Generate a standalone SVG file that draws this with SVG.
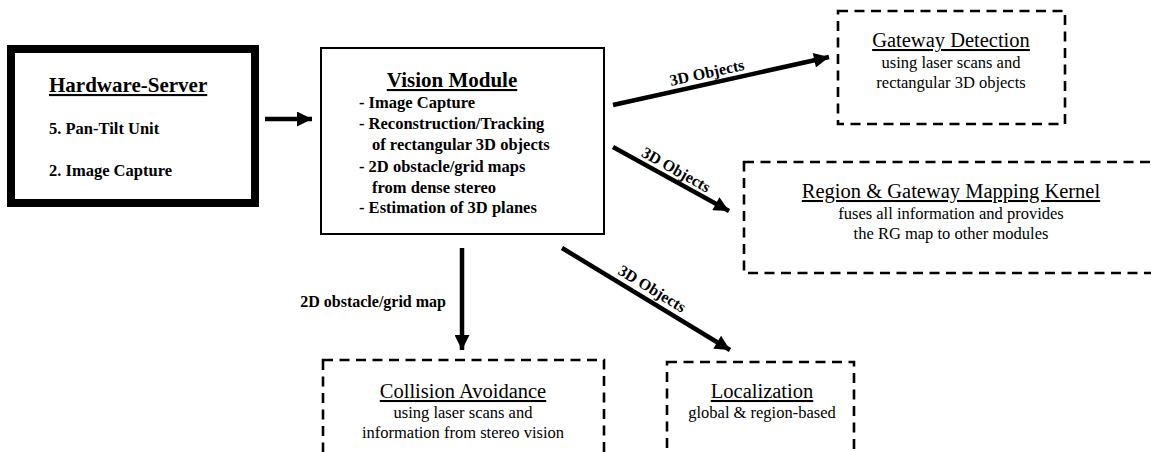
<svg xmlns="http://www.w3.org/2000/svg" width="1151" height="452" viewBox="0 0 1151 452" font-family="'Liberation Serif', 'Times New Roman', Times, serif">
  <style>
    text { font-family: 'Liberation Serif', 'Times New Roman', Times, serif; fill: #000; }
    .title { font-size: 21px; font-weight: bold; text-decoration: underline; }
    .item { font-size: 16.5px; font-weight: bold; }
    .mtitle { font-size: 20.5px; text-decoration: underline; }
    .desc { font-size: 16.5px; }
    .lbl { font-size: 16px; font-weight: bold; }
    .dashed { fill: none; stroke: #000; stroke-width: 2.6; stroke-dasharray: 10 6.5; }
    .conn { stroke: #000; stroke-width: 4.5; fill: none; }
  </style>
  <defs>
    <marker id="head" viewBox="0 0 10 10" refX="10" refY="5" markerUnits="userSpaceOnUse" markerWidth="17" markerHeight="15" orient="auto">
      <path d="M0,0 L10,5 L0,10 Z" fill="#000"/>
    </marker>
  </defs>
  <rect width="1151" height="452" fill="#fff"/>

  <g id="hardware-server">
    <rect x="11" y="49" width="244" height="154" fill="#fff" stroke="#000" stroke-width="8"/>
    <text class="title" x="49" y="92">Hardware-Server</text>
    <text class="item" x="49" y="134">5. Pan-Tilt Unit</text>
    <text class="item" x="49" y="176">2. Image Capture</text>
  </g>

  <g id="vision-module">
    <rect x="321" y="48" width="283" height="186" fill="#fff" stroke="#000" stroke-width="2"/>
    <text class="title" x="452" y="87" text-anchor="middle">Vision Module</text>
    <text class="item" x="359" y="108">- Image Capture</text>
    <text class="item" x="359" y="129">- Reconstruction/Tracking</text>
    <text class="item" x="372" y="150">of rectangular 3D objects</text>
    <text class="item" x="359" y="172">- 2D obstacle/grid maps</text>
    <text class="item" x="372" y="193">from dense stereo</text>
    <text class="item" x="359" y="213">- Estimation of 3D planes</text>
  </g>

  <g id="gateway-detection">
    <rect class="dashed" x="838" y="11" width="227" height="113"/>
    <text class="mtitle" x="951" y="47" text-anchor="middle">Gateway Detection</text>
    <text class="desc" x="951" y="68" text-anchor="middle">using laser scans and</text>
    <text class="desc" x="951" y="88" text-anchor="middle">rectangular 3D objects</text>
  </g>

  <g id="region-gateway-kernel">
    <rect class="dashed" x="744" y="162" width="430" height="111"/>
    <text class="mtitle" x="951" y="198" text-anchor="middle">Region &amp; Gateway Mapping Kernel</text>
    <text class="desc" x="951" y="219" text-anchor="middle">fuses all information and provides</text>
    <text class="desc" x="951" y="239" text-anchor="middle">the RG map to other modules</text>
  </g>

  <g id="collision-avoidance">
    <rect class="dashed" x="323" y="360" width="281" height="120"/>
    <text class="mtitle" x="463" y="398" text-anchor="middle">Collision Avoidance</text>
    <text class="desc" x="463" y="418" text-anchor="middle">using laser scans and</text>
    <text class="desc" x="463" y="438" text-anchor="middle">information from stereo vision</text>
  </g>

  <g id="localization">
    <rect class="dashed" x="667" y="362" width="187" height="120"/>
    <text class="mtitle" x="762" y="398" text-anchor="middle">Localization</text>
    <text class="desc" x="762" y="418" text-anchor="middle">global &amp; region-based</text>
  </g>

  <g id="connectors">
    <line class="conn" x1="265" y1="119" x2="312" y2="119" marker-end="url(#head)"/>
    <line class="conn" x1="613" y1="105" x2="829" y2="57" marker-end="url(#head)"/>
    <line class="conn" x1="613" y1="147" x2="729" y2="211" marker-end="url(#head)"/>
    <line class="conn" x1="562" y1="248" x2="730" y2="350" marker-end="url(#head)"/>
    <line class="conn" x1="462" y1="248" x2="462" y2="350" marker-end="url(#head)"/>
    <text class="lbl" transform="translate(707,73) rotate(-12.5)" x="0" y="5" text-anchor="middle">3D Objects</text>
    <text class="lbl" transform="translate(676,170) rotate(29.3)" x="0" y="5" text-anchor="middle">3D Objects</text>
    <text class="lbl" transform="translate(652,289) rotate(31.3)" x="0" y="5" text-anchor="middle">3D Objects</text>
    <text class="lbl" x="446" y="307" text-anchor="end">2D obstacle/grid map</text>
  </g>
</svg>
